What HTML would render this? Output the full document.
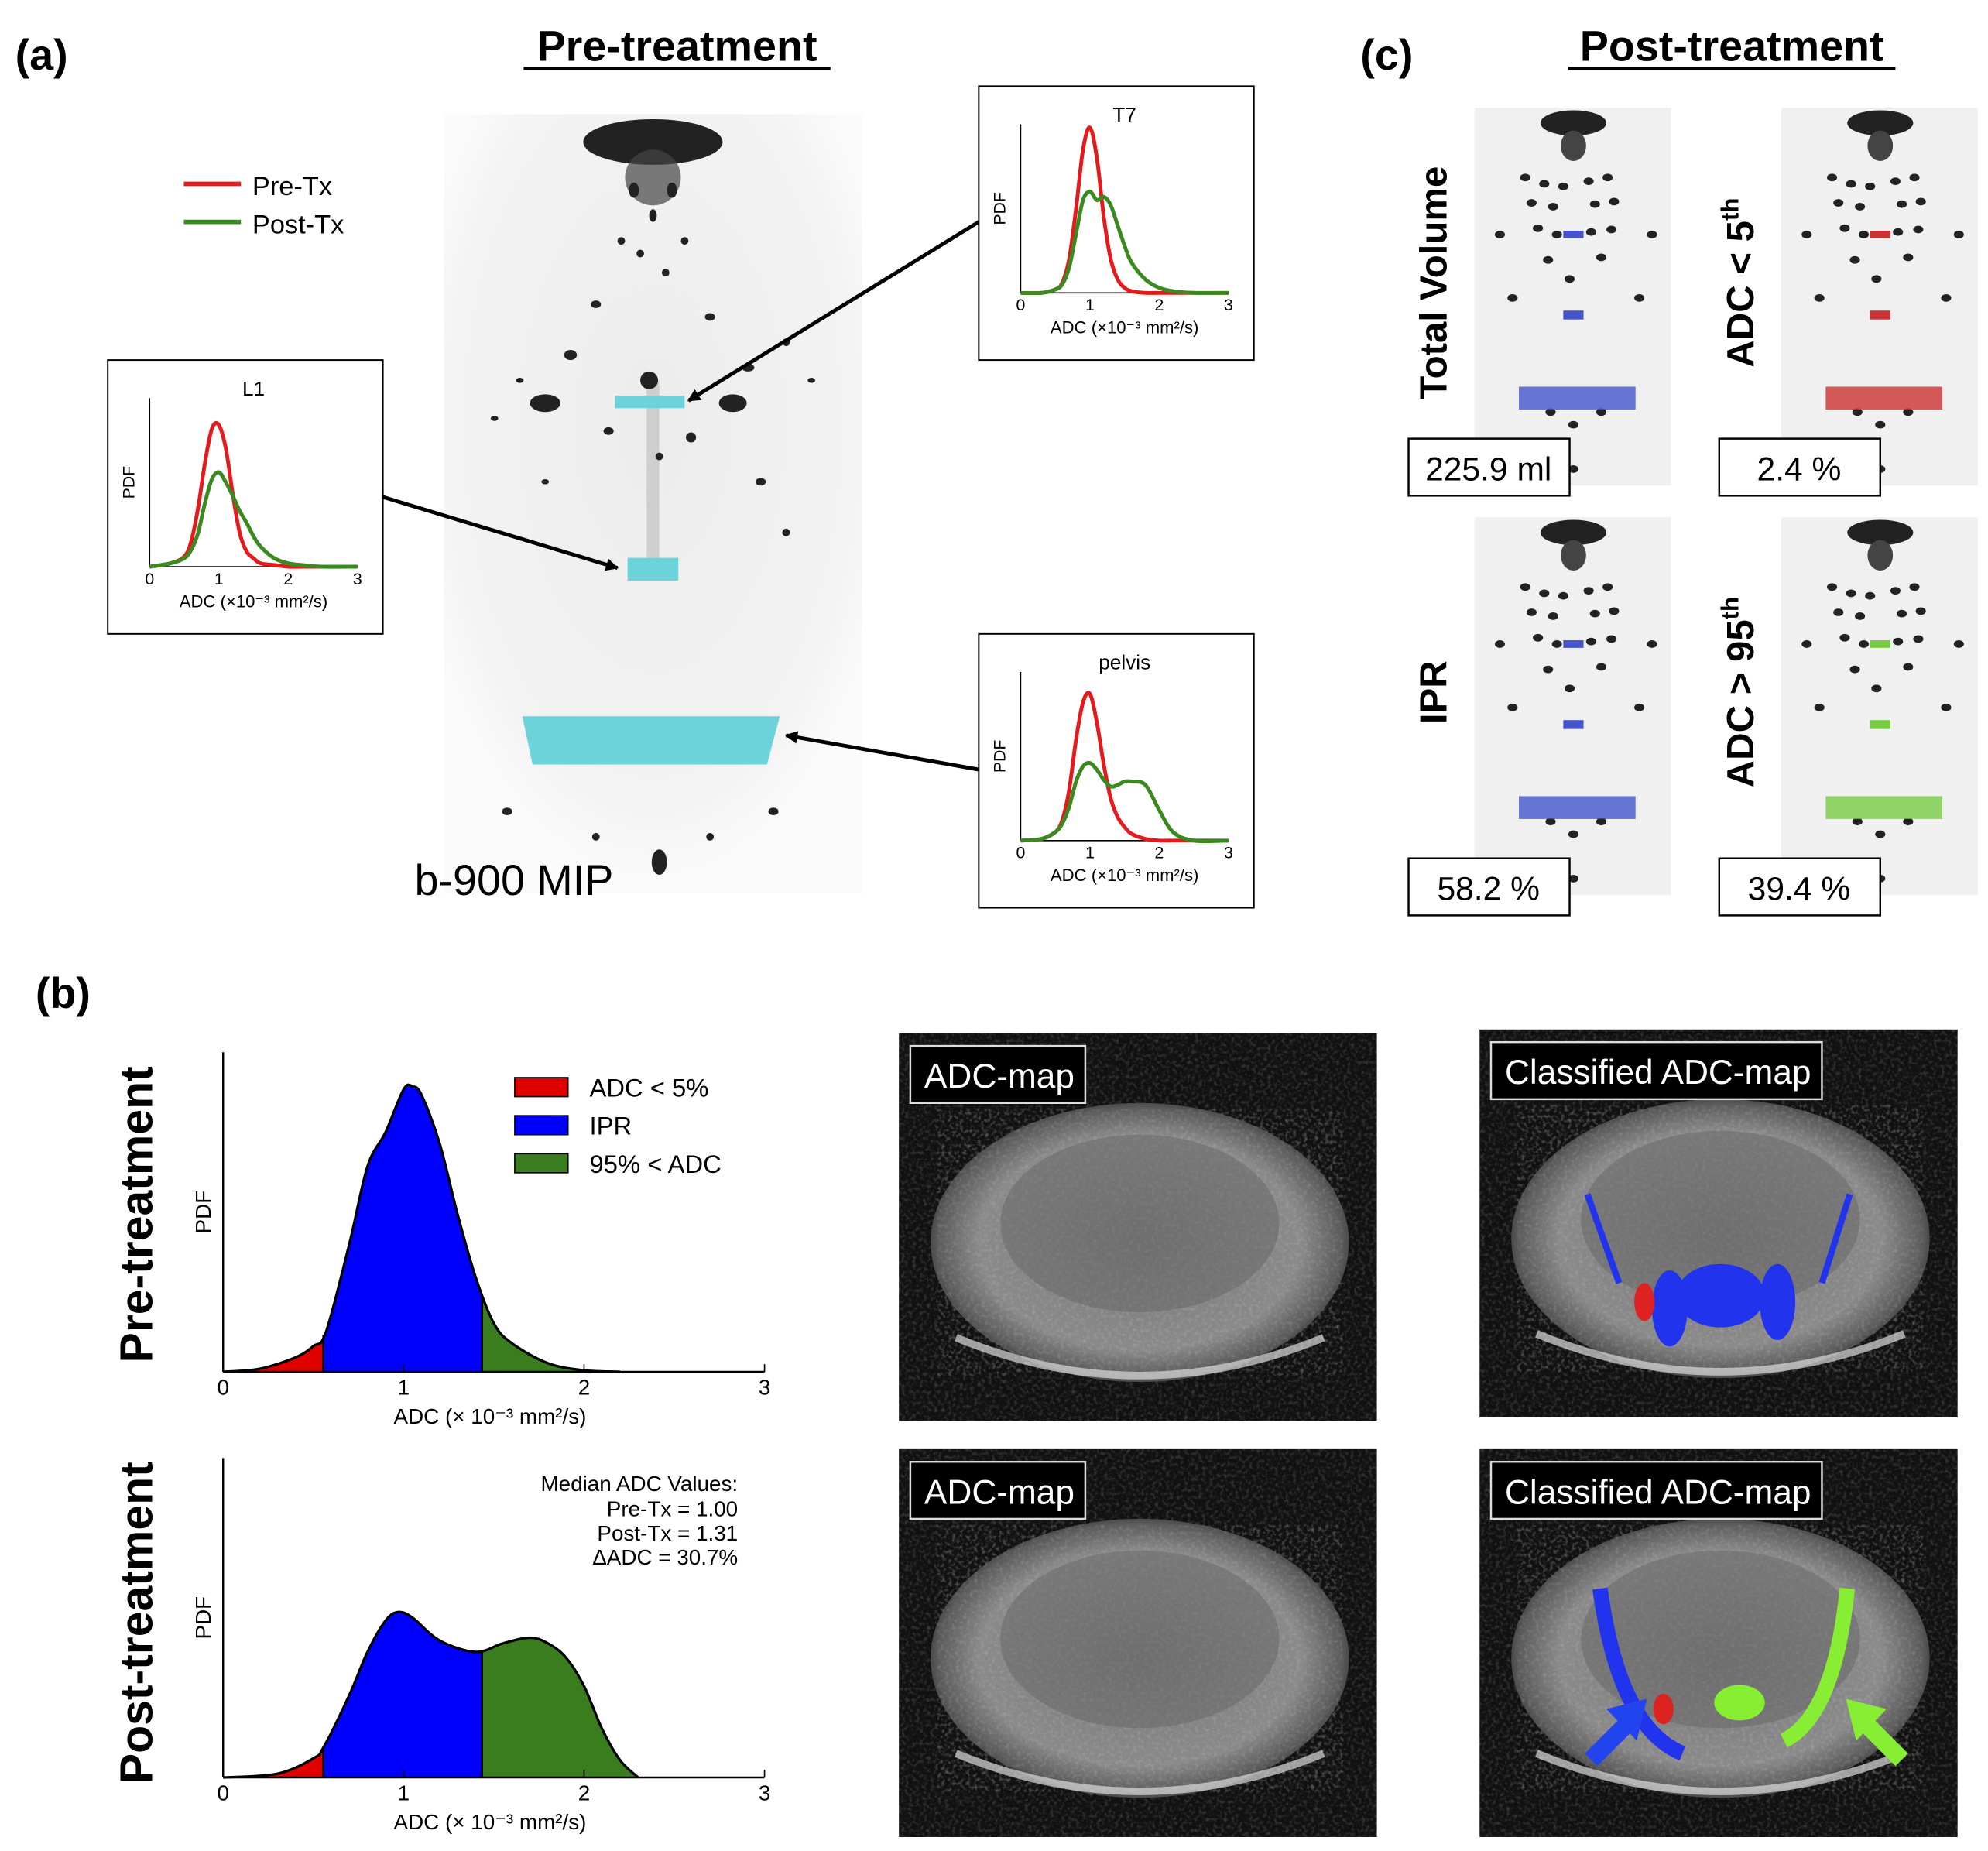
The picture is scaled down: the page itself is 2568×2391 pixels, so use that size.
<!DOCTYPE html>
<html><head><meta charset="utf-8"><style>
html,body{margin:0;padding:0;background:#fff}
svg{display:block}
text{font-family:"Liberation Sans",sans-serif}
</style></head><body>
<svg id="fig" width="2568" height="2391" viewBox="0 0 1568 1460" preserveAspectRatio="none" xmlns="http://www.w3.org/2000/svg">
<defs>
<radialGradient id="mipg" cx="50%" cy="40%" r="60%"><stop offset="0" stop-color="#ececec"/><stop offset="0.8" stop-color="#f3f3f3"/><stop offset="1" stop-color="#fbfbfb"/></radialGradient>
<radialGradient id="bodyg" cx="50%" cy="50%" r="55%"><stop offset="0" stop-color="#777"/><stop offset="0.7" stop-color="#8a8a8a"/><stop offset="0.88" stop-color="#5a5a5a"/><stop offset="1" stop-color="#1c1c1c"/></radialGradient>
<filter id="noise" x="0" y="0" width="100%" height="100%"><feTurbulence type="fractalNoise" baseFrequency="0.35" numOctaves="2" seed="3"/><feColorMatrix type="matrix" values="0 0 0 0 1  0 0 0 0 1  0 0 0 0 1  0 0 0 1.2 -0.55"/></filter>
<marker id="ah" markerWidth="10" markerHeight="10" refX="9" refY="5" orient="auto" markerUnits="userSpaceOnUse"><path d="M0,0 L10,5 L0,10 z" fill="#000"/></marker>
</defs>
<text x="12" y="55" font-size="34" font-weight="bold">(a)</text>
<text x="534" y="48" font-size="34" font-weight="bold" text-anchor="middle">Pre-treatment</text>
<line x1="413" y1="54" x2="655" y2="54" stroke="#000" stroke-width="2.5"/>
<g id="mip">
<rect x="350" y="90" width="330" height="615" fill="url(#mipg)"/>
<ellipse cx="515" cy="112" rx="55" ry="18" fill="#222"/>
<ellipse cx="515" cy="140" rx="22" ry="22" fill="#444" opacity="0.7"/>
<rect x="510" y="300" width="10" height="140" fill="#bbb" opacity="0.6"/>
</g>
<rect x="485" y="312" width="55" height="10" fill="#6cd3db"/>
<rect x="495" y="440" width="40" height="18" fill="#6cd3db"/>
<path d="M412,565 L615,565 L605,603 L420,603 z" fill="#6cd3db"/>
<text x="327" y="706" font-size="34">b-900 MIP</text>
<g>
<line x1="145" y1="145" x2="190" y2="145" stroke="#e41a1c" stroke-width="3.5"/>
<text x="199" y="154" font-size="21">Pre-Tx</text>
<line x1="145" y1="175" x2="190" y2="175" stroke="#3a8a1f" stroke-width="3.5"/>
<text x="199" y="184" font-size="21">Post-Tx</text>
</g>
<line x1="302" y1="392" x2="487" y2="448" stroke="#000" stroke-width="3" marker-end="url(#ah)"/>
<line x1="772" y1="175" x2="543" y2="316" stroke="#000" stroke-width="3" marker-end="url(#ah)"/>
<line x1="772" y1="607" x2="620" y2="580" stroke="#000" stroke-width="3" marker-end="url(#ah)"/>
<g id="insets"></g>
<text x="1073" y="55" font-size="34" font-weight="bold">(c)</text>
<text x="1366" y="48" font-size="34" font-weight="bold" text-anchor="middle">Post-treatment</text>
<line x1="1237" y1="54" x2="1495" y2="54" stroke="#000" stroke-width="2.5"/>
<g id="cpanels"></g>
<text x="28" y="795" font-size="34" font-weight="bold">(b)</text>
<text transform="translate(120,958) rotate(-90)" font-size="36" font-weight="bold" text-anchor="middle">Pre-treatment</text>
<text transform="translate(120,1280) rotate(-90)" font-size="36" font-weight="bold" text-anchor="middle">Post-treatment</text>
<g id="charts"></g>
<g>
<rect x="406" y="850" width="42" height="15" fill="#e00000" stroke="#000"/><text x="465" y="865" font-size="20">ADC &lt; 5%</text>
<rect x="406" y="880" width="42" height="15" fill="#0000ff" stroke="#000"/><text x="465" y="895" font-size="20">IPR</text>
<rect x="406" y="910" width="42" height="15" fill="#3a7d1e" stroke="#000"/><text x="465" y="925" font-size="20">95% &lt; ADC</text>
</g>
<g font-size="17" text-anchor="end">
<text x="582" y="1176">Median ADC Values:</text>
<text x="582" y="1196">Pre-Tx = 1.00</text>
<text x="582" y="1215">Post-Tx = 1.31</text>
<text x="582" y="1234">ΔADC = 30.7%</text>
</g>
<g id="maps"></g>
</svg>
<script>
const NS="http://www.w3.org/2000/svg";
const preX=[0,0.2,0.4,0.5,0.57,0.7,0.8,0.9,1.0,1.05,1.1,1.2,1.3,1.4,1.5,1.6,1.8,2.0,2.2];
const prePdf=[0,0.01,0.05,0.09,0.14,0.45,0.72,0.84,0.99,1.0,0.97,0.80,0.55,0.33,0.17,0.10,0.03,0.005,0];
const postX=[0,0.3,0.5,0.56,0.7,0.8,0.9,0.97,1.05,1.2,1.4,1.55,1.7,1.8,1.9,2.0,2.1,2.2,2.3];
const postPdf=[0,0.013,0.067,0.11,0.29,0.44,0.55,0.58,0.56,0.48,0.44,0.47,0.49,0.47,0.42,0.32,0.17,0.06,0];
const thresholds=[0.555,1.435];
const xTicks=[0,1,2,3];
const insetX=[0,0.3,0.5,0.6,0.7,0.8,0.9,1.0,1.1,1.2,1.3,1.4,1.5,1.6,1.8,2.0,2.2,2.5,3.0];
const l1Pre=[0,.02,.06,.15,.35,.62,.82,.84,.7,.43,.2,.09,.05,.02,.01,0,0,0,0];
const l1Post=[0,.02,.05,.1,.2,.38,.52,.56,.5,.42,.33,.26,.18,.12,.05,.02,.01,0,0];
const t7Pre=[0,0,.02,.06,.2,.5,.85,.98,.8,.45,.2,.08,.03,.01,0,0,0,0,0];
const t7Post=[0,0,.02,.05,.15,.35,.55,.6,.55,.57,.52,.4,.28,.18,.08,.03,.01,0,0];
const pelPre=[0,.01,.05,.12,.3,.6,.82,.87,.7,.45,.25,.14,.08,.04,.01,0,0,0,0];
const pelPost=[0,.01,.05,.1,.2,.35,.44,.46,.42,.36,.32,.33,.35,.35,.33,.18,.05,0,0];
const cValues=["225.9 ml","2.4 %","58.2 %","39.4 %"];
const cLabels=["Total Volume","ADC < 5","IPR","ADC > 95"];

function el(tag,attrs,parent){const e=document.createElementNS(NS,tag);for(const k in attrs)e.setAttribute(k,attrs[k]);parent.appendChild(e);return e;}
function smooth(pts){let d="M"+pts[0][0]+","+pts[0][1];for(let i=0;i<pts.length-1;i++){const p0=pts[Math.max(0,i-1)],p1=pts[i],p2=pts[i+1],p3=pts[Math.min(pts.length-1,i+2)];const c1=[p1[0]+(p2[0]-p0[0])/6,p1[1]+(p2[1]-p0[1])/6],c2=[p2[0]-(p3[0]-p1[0])/6,p2[1]-(p3[1]-p1[1])/6];d+=" C"+c1[0]+","+c1[1]+" "+c2[0]+","+c2[1]+" "+p2[0]+","+p2[1];}return d;}

// MIP speckle dots (fixed positions)
const mipDots=[[430,318,12,7],[578,318,11,7],[512,300,7,7],[470,240,4,3],[560,250,4,3],[450,280,5,4],[590,290,5,3],[480,340,4,3],[545,345,4,4],[520,360,3,3],[430,380,3,2],[600,380,4,3],[505,200,3,3],[525,215,3,3],[490,190,3,3],[540,190,3,3],[620,270,3,3],[410,300,3,2],[620,420,3,3],[400,640,4,3],[610,640,4,3],[520,680,6,10],[470,660,3,3],[560,660,3,3],[640,300,3,2],[390,330,3,2],[500,150,4,6],[530,150,4,6],[515,170,3,5]];
const mip=document.getElementById('mip');
mipDots.forEach(d=>el('ellipse',{cx:d[0],cy:d[1],rx:d[2],ry:d[3],fill:'#222'},mip));

const charts=document.getElementById('charts');
function mainChart(x0,x1,yb,yt,xs,ys,ymax,id){
  const sx=v=>x0+(v/3)*(x1-x0), sy=v=>yb-(v/ymax)*(yb-yt);
  const g=el('g',{},charts);
  
  
  const pts=xs.map((v,i)=>[sx(v),sy(ys[i])]);
  const line=smooth(pts);
  const area=line+" L"+sx(xs[xs.length-1])+","+yb+" L"+sx(0)+","+yb+" Z";
  const cols=["#e00000","#0000ff","#3a7d1e"];
  const bounds=[0,thresholds[0],thresholds[1],3];
  for(let k=0;k<3;k++){
    const cp=el('clipPath',{id:'cp'+id+k},g);
    el('rect',{x:sx(bounds[k]),y:yt-10,width:sx(bounds[k+1])-sx(bounds[k]),height:yb-yt+10},cp);
    const a=el('path',{d:area,fill:cols[k],'clip-path':'url(#cp'+id+k+')'},g);
    
    
    if(k>0){let j=0;while(xs[j+1]<bounds[k])j++;const t=(bounds[k]-xs[j])/(xs[j+1]-xs[j]);const yv=ys[j]+t*(ys[j+1]-ys[j]);el('line',{x1:sx(bounds[k]),x2:sx(bounds[k]),y1:yb,y2:sy(yv),stroke:'#000','stroke-width':1.5},g);}
  }
  el('path',{d:line,fill:'none',stroke:'#000','stroke-width':2},g);
  el('line',{x1:x0,y1:yb,x2:x1,y2:yb,stroke:'#000','stroke-width':1.5},g);
  el('line',{x1:x0,y1:yb,x2:x0,y2:yt,stroke:'#000','stroke-width':1.5},g);
  xTicks.forEach(t=>{el('line',{x1:sx(t),x2:sx(t),y1:yb,y2:yb-6,stroke:'#000'},g);const tx=el('text',{x:sx(t),y:yb+18,'font-size':17,'text-anchor':'middle'},g);tx.textContent=t;});
  const xl=el('text',{x:(x0+x1)/2-3,y:yb+41,'font-size':17,'text-anchor':'middle'},g);xl.textContent="ADC (× 10⁻³ mm²/s)";
  const yl=el('text',{transform:'translate('+(x0-10)+','+((yb+yt)/2)+') rotate(-90)','font-size':17,'text-anchor':'middle'},g);yl.textContent="PDF";
}
mainChart(176,603,1082,830,preX,prePdf,1.12,'pre');
mainChart(176,603,1402,1150,postX,postPdf,1.12,'post');

const insets=document.getElementById('insets');
function inset(bx,by,title,pre,post,name){
  const g=el('g',{},insets);
  
  
  el('rect',{x:bx,y:by,width:217,height:216,fill:'#fff',stroke:'#000','stroke-width':1.2},g);
  const x0=bx+33,x1=bx+197,yb=by+163,yt=by+30;
  const sx=v=>x0+(v/3)*(x1-x0), sy=v=>yb-v*(yb-yt);
  const t=el('text',{x:bx+115,y:by+28,'font-size':16,'text-anchor':'middle'},g);t.textContent=title;
  el('line',{x1:x0,y1:yb,x2:x1,y2:yb,stroke:'#000'},g);
  el('line',{x1:x0,y1:yb,x2:x0,y2:yt,stroke:'#000'},g);
  [0,1,2,3].forEach(v=>{const tx=el('text',{x:sx(v),y:yb+14,'font-size':13,'text-anchor':'middle'},g);tx.textContent=v;});
  const xl=el('text',{x:(x0+x1)/2,y:yb+32,'font-size':13.5,'text-anchor':'middle'},g);xl.textContent="ADC (×10⁻³ mm²/s)";
  const yl=el('text',{transform:'translate('+(x0-12)+','+((yb+yt)/2)+') rotate(-90)','font-size':13,'text-anchor':'middle'},g);yl.textContent="PDF";
  const p1=el('path',{d:smooth(insetX.map((v,i)=>[sx(v),sy(pre[i])])),fill:'none',stroke:'#e41a1c','stroke-width':3},g);
  
  
  const p2=el('path',{d:smooth(insetX.map((v,i)=>[sx(v),sy(post[i])])),fill:'none',stroke:'#3a8a1f','stroke-width':3},g);
  
  
}
inset(85,284,"L1",l1Pre,l1Post,'l1');
inset(772,68,"T7",t7Pre,t7Post,'t7');
inset(772,500,"pelvis",pelPre,pelPost,'pelvis');

const cp=document.getElementById('cpanels');
const cPos=[[1163,85,1111,346],[1405,85,1356,346],[1163,408,1111,677],[1405,408,1356,677]];
const cCols=["#4455cc","#cc3333","#4455cc","#77cc44"];
const cDots=[[40,55],[55,60],[70,62],[90,58],[105,55],[45,75],[62,78],[95,76],[110,74],[50,95],[65,100],[92,98],[108,96],[58,120],[100,118],[75,135],[20,100],[140,100],[30,150],[130,150],[78,250],[60,240],[100,240],[78,285]];
cPos.forEach((p,i)=>{
  const g=el('g',{},cp);
  
  
  el('rect',{x:p[0],y:p[1],width:155,height:298,fill:'#f0f0f0'},g);
  el('ellipse',{cx:p[0]+78,cy:p[1]+12,rx:26,ry:10,fill:'#222'},g);
  el('ellipse',{cx:p[0]+78,cy:p[1]+30,rx:10,ry:12,fill:'#444'},g);
  cDots.forEach(d=>el('ellipse',{cx:p[0]+d[0],cy:p[1]+d[1],rx:4,ry:3,fill:'#222'},g));
  el('rect',{x:p[0]+70,y:p[1]+97,width:16,height:6,fill:cCols[i]},g);
  el('rect',{x:p[0]+70,y:p[1]+160,width:16,height:7,fill:cCols[i]},g);
  el('rect',{x:p[0]+35,y:p[1]+220,width:92,height:18,fill:cCols[i],opacity:0.8},g);
  const lab=el('text',{transform:'translate('+(p[0]-22)+','+(p[1]+138)+') rotate(-90)','font-size':30,'font-weight':'bold','text-anchor':'middle'},g);
  lab.textContent=cLabels[i];
  if(i==1||i==3){const ts=el('tspan',{'font-size':19,dy:-12},lab);ts.textContent="th";}
  el('rect',{x:p[2],y:p[3],width:127,height:45,fill:'#fff',stroke:'#000','stroke-width':1.5},g);
  const vt=el('text',{x:p[2]+63,y:p[3]+33,'font-size':26,'text-anchor':'middle'},g);vt.textContent=cValues[i];
});

const maps=document.getElementById('maps');
const mPos=[[709,815,"ADC-map",0],[709,1143,"ADC-map",0],[1167,812,"Classified ADC-map",1],[1167,1143,"Classified ADC-map",2]];
mPos.forEach((p,i)=>{
  const g=el('g',{},maps);
  
  
  el('rect',{x:p[0],y:p[1],width:377,height:306,fill:'#111'},g);
  el('rect',{x:p[0],y:p[1],width:377,height:306,fill:'#fff',filter:'url(#noise)',opacity:0.35},g);
  el('ellipse',{cx:p[0]+190,cy:p[1]+165,rx:165,ry:110,fill:'url(#bodyg)'},g);
  el('ellipse',{cx:p[0]+190,cy:p[1]+165,rx:160,ry:105,fill:'#fff',filter:'url(#noise)',opacity:0.3},g);
  el('ellipse',{cx:p[0]+190,cy:p[1]+150,rx:110,ry:70,fill:'#666',opacity:0.5},g);
  el('path',{d:`M${p[0]+45},${p[1]+240} Q${p[0]+190},${p[1]+300} ${p[0]+335},${p[1]+240}`,stroke:'#ddd','stroke-width':6,fill:'none',opacity:0.7},g);
  if(p[3]==1){
    el('ellipse',{cx:p[0]+190,cy:p[1]+210,rx:35,ry:25,fill:'#2233ee'},g);
    el('ellipse',{cx:p[0]+150,cy:p[1]+220,rx:14,ry:30,fill:'#2233ee'},g);
    el('ellipse',{cx:p[0]+235,cy:p[1]+215,rx:14,ry:30,fill:'#2233ee'},g);
    el('ellipse',{cx:p[0]+130,cy:p[1]+215,rx:8,ry:15,fill:'#dd2222'},g);
    el('line',{x1:p[0]+85,y1:p[1]+130,x2:p[0]+110,y2:p[1]+200,stroke:'#2233ee','stroke-width':5},g);
    el('line',{x1:p[0]+292,y1:p[1]+130,x2:p[0]+270,y2:p[1]+200,stroke:'#2233ee','stroke-width':5},g);
  }
  if(p[3]==2){
    el('path',{d:`M${p[0]+95},${p[1]+110} Q${p[0]+110},${p[1]+220} ${p[0]+160},${p[1]+240}`,stroke:'#2233ee','stroke-width':12,fill:'none'},g);
    el('path',{d:`M${p[0]+290},${p[1]+110} Q${p[0]+280},${p[1]+210} ${p[0]+240},${p[1]+230}`,stroke:'#88ee33','stroke-width':12,fill:'none'},g);
    el('ellipse',{cx:p[0]+205,cy:p[1]+200,rx:20,ry:14,fill:'#88ee33'},g);
    el('ellipse',{cx:p[0]+145,cy:p[1]+205,rx:8,ry:12,fill:'#dd2222'},g);
    el('line',{x1:p[0]+88,y1:p[1]+245,x2:p[0]+115,y2:p[1]+218,stroke:'#2244ee','stroke-width':14},g);
    el('path',{d:`M${p[0]+100},${p[1]+205} L${p[0]+132},${p[1]+197} L${p[0]+124},${p[1]+230}z`,fill:'#2244ee'},g);
    el('line',{x1:p[0]+333,y1:p[1]+245,x2:p[0]+306,y2:p[1]+218,stroke:'#88ee33','stroke-width':14},g);
    el('path',{d:`M${p[0]+321},${p[1]+205} L${p[0]+289},${p[1]+197} L${p[0]+297},${p[1]+230}z`,fill:'#88ee33'},g);
  }
  el('rect',{x:p[0]+9,y:p[1]+10,width:p[3]?261:138,height:45,fill:'#000',stroke:'#ddd','stroke-width':1.5},g);
  const lt=el('text',{x:p[0]+20,y:p[1]+43,'font-size':27,fill:'#fff'},g);lt.textContent=p[2];
});
</script>
</body></html>
